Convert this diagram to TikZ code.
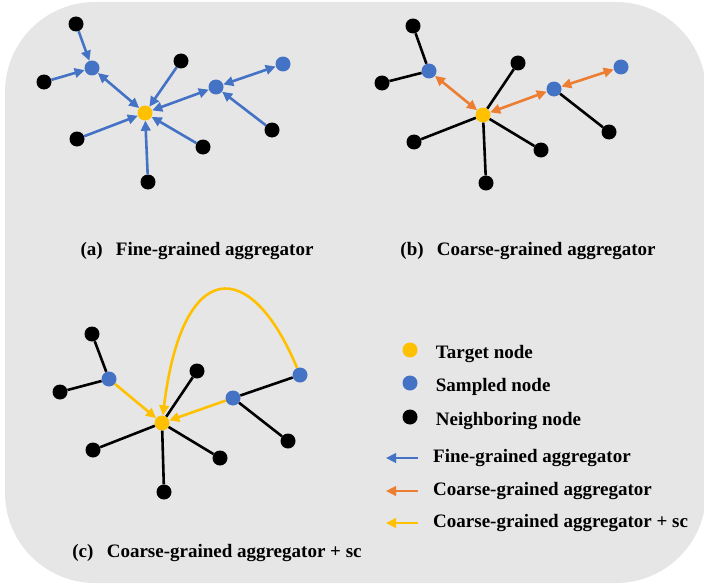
\documentclass[tikz,border=0pt]{standalone}
\usepackage{fontspec}
\setmainfont{Liberation Serif}
\usepackage{tikz}
\usetikzlibrary{positioning}
\usetikzlibrary{arrows.meta}
\tikzset{>={Triangle[width=9.5pt,length=10pt]}}
\definecolor{aggblue}{HTML}{4472C4}
\definecolor{aggorange}{HTML}{ED7D31}
\definecolor{aggyellow}{HTML}{FFC000}
\definecolor{panelgray}{HTML}{E6E6E6}

\begin{document}
\begin{tikzpicture}[x=1pt, y=-1pt, dotnode/.style={circle, inner sep=0pt, minimum size=15pt}, targetnode/.style={dotnode, fill=aggyellow}, samplednode/.style={dotnode, fill=aggblue}, neighbornode/.style={dotnode, fill=black}, plainline/.style={draw=black, line width=2.6pt}, fineline/.style={draw=aggblue, line width=2.6pt}, coarseline/.style={draw=aggorange, line width=2.6pt}, scline/.style={draw=aggyellow, line width=2.6pt}, txt/.style={font=\fontsize{19}{22}\selectfont\bfseries, inner sep=0pt}]

    %Background
    \useasboundingbox (0,0) rectangle (704,586);
    \fill[panelgray, rounded corners=90pt] (5,2) rectangle (706,583);

    %Nodes (a)
    \node[targetnode](target_a) at (145,113){};
    \node[samplednode](sampled_a1) at (92,68){};
    \node[samplednode](sampled_a2) at (216,87){};
    \node[samplednode](sampled_a3) at (283,64){};
    \node[neighbornode](neighbor_a1) at (76,24){};
    \node[neighbornode](neighbor_a2) at (44,82){};
    \node[neighbornode](neighbor_a3) at (181,61){};
    \node[neighbornode](neighbor_a4) at (77,139){};
    \node[neighbornode](neighbor_a5) at (148,182){};
    \node[neighbornode](neighbor_a6) at (203,147){};
    \node[neighbornode](neighbor_a7) at (272,130){};
    \node[txt](caption_a) at (197,251){(a)\hspace{0.7em}Fine-grained aggregator};

    %Lines (a)
    \draw[fineline,->] (neighbor_a1) -- (sampled_a1);
    \draw[fineline,->] (neighbor_a2) -- (sampled_a1);
    \draw[fineline,<->] (sampled_a1) -- (target_a);
    \draw[fineline,->] (neighbor_a3) -- (target_a);
    \draw[fineline,<->] (target_a) -- (sampled_a2);
    \draw[fineline,<->] (sampled_a2) -- (sampled_a3);
    \draw[fineline,->] (neighbor_a7) -- (sampled_a2);
    \draw[fineline,->] (neighbor_a4) -- (target_a);
    \draw[fineline,->] (neighbor_a5) -- (target_a);
    \draw[fineline,->] (neighbor_a6) -- (target_a);

    %Nodes (b)
    \node[targetnode](target_b) at (483,115){};
    \node[samplednode](sampled_b1) at (429,71){};
    \node[samplednode](sampled_b2) at (554,89){};
    \node[samplednode](sampled_b3) at (621,67){};
    \node[neighbornode](neighbor_b1) at (413,26){};
    \node[neighbornode](neighbor_b2) at (382,83){};
    \node[neighbornode](neighbor_b3) at (518,63){};
    \node[neighbornode](neighbor_b4) at (414,142){};
    \node[neighbornode](neighbor_b5) at (486,183){};
    \node[neighbornode](neighbor_b6) at (541,150){};
    \node[neighbornode](neighbor_b7) at (609,132){};
    \node[txt](caption_b) at (528,251){(b)\hspace{0.7em}Coarse-grained aggregator};

    %Lines (b)
    \draw[plainline] (neighbor_b1) -- (sampled_b1);
    \draw[plainline] (neighbor_b2) -- (sampled_b1);
    \draw[plainline] (neighbor_b3) -- (target_b);
    \draw[plainline] (neighbor_b4) -- (target_b);
    \draw[plainline] (neighbor_b5) -- (target_b);
    \draw[plainline] (neighbor_b6) -- (target_b);
    \draw[plainline] (neighbor_b7) -- (sampled_b2);
    \draw[coarseline,<->] (sampled_b1) -- (target_b);
    \draw[coarseline,<->] (target_b) -- (sampled_b2);
    \draw[coarseline,<->] (sampled_b2) -- (sampled_b3);

    %Nodes (c)
    \node[targetnode](target_c) at (162,423){};
    \node[samplednode](sampled_c1) at (109,379){};
    \node[samplednode](sampled_c2) at (233,398){};
    \node[samplednode](sampled_c3) at (300,375){};
    \node[neighbornode](neighbor_c1) at (92,334){};
    \node[neighbornode](neighbor_c2) at (60,392){};
    \node[neighbornode](neighbor_c3) at (197,371){};
    \node[neighbornode](neighbor_c4) at (93,450){};
    \node[neighbornode](neighbor_c5) at (164,492){};
    \node[neighbornode](neighbor_c6) at (220,458){};
    \node[neighbornode](neighbor_c7) at (288,441){};
    \node[txt](caption_c) at (217,553){(c)\hspace{0.7em}Coarse-grained aggregator + sc};

    %Lines (c)
    \draw[plainline] (neighbor_c1) -- (sampled_c1);
    \draw[plainline] (neighbor_c2) -- (sampled_c1);
    \draw[plainline] (neighbor_c3) -- (target_c);
    \draw[plainline] (neighbor_c4) -- (target_c);
    \draw[plainline] (neighbor_c5) -- (target_c);
    \draw[plainline] (neighbor_c6) -- (target_c);
    \draw[plainline] (sampled_c2) -- (sampled_c3);
    \draw[plainline] (sampled_c2) -- (neighbor_c7);
    \draw[scline,->] (sampled_c1) -- (target_c);
    \draw[scline,->] (sampled_c2) -- (target_c);
    \draw[scline,->] (sampled_c3) .. controls +(-50,-120) and +(20,-165) .. (target_c);

    %Legend
    \node[targetnode](legend_target) at (410,350){};
    \node[samplednode](legend_sampled) at (410,383){};
    \node[neighbornode](legend_neighbor) at (410,417){};
    \node[txt](legend_target_text)[right=18pt of legend_target, yshift=-4pt]{Target node};
    \node[txt](legend_sampled_text)[right=18pt of legend_sampled, yshift=-4pt]{Sampled node};
    \node[txt](legend_neighbor_text)[right=18pt of legend_neighbor, yshift=-4pt]{Neighboring node};
    \coordinate (fine_start) at (418,458);
    \coordinate (fine_end) at (386,458);
    \coordinate (coarse_start) at (418,491);
    \coordinate (coarse_end) at (386,491);
    \coordinate (sc_start) at (418,523);
    \coordinate (sc_end) at (386,523);
    \node[txt](legend_fine_text)[right=15pt of fine_start]{Fine-grained aggregator};
    \node[txt](legend_coarse_text)[right=15pt of coarse_start]{Coarse-grained aggregator};
    \node[txt](legend_sc_text)[right=15pt of sc_start]{Coarse-grained aggregator + sc};
    \draw[fineline,->] (fine_start) -- (fine_end);
    \draw[coarseline,->] (coarse_start) -- (coarse_end);
    \draw[scline,->] (sc_start) -- (sc_end);

\end{tikzpicture}
\end{document}
